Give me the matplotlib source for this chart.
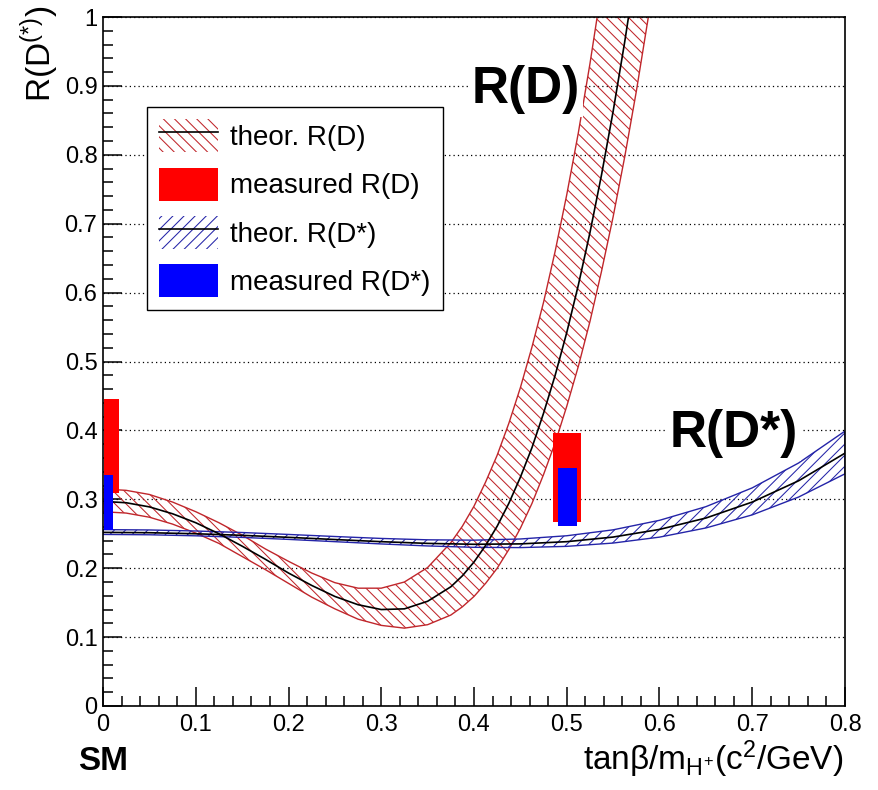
import matplotlib
matplotlib.use('Agg')
import matplotlib.pyplot as plt
from matplotlib.patches import Patch
from matplotlib.lines import Line2D
from matplotlib.legend_handler import HandlerTuple
from matplotlib.ticker import MultipleLocator

# theory band for R(D) vs tanb/mH
x_rd = [0.0, 0.025, 0.05, 0.075, 0.1, 0.125, 0.15, 0.175, 0.2, 0.225, 0.25, 0.275,
        0.3, 0.325, 0.35, 0.375, 0.3875, 0.4, 0.4125, 0.425, 0.4375, 0.45, 0.4625,
        0.475, 0.4875, 0.5, 0.5125, 0.525, 0.5375, 0.55, 0.5625, 0.575, 0.5875, 0.6]
rd_mid = [0.297, 0.295, 0.289, 0.279, 0.266, 0.250, 0.232, 0.213, 0.193, 0.175, 0.159, 0.147,
          0.140, 0.141, 0.152, 0.173, 0.189, 0.209, 0.233, 0.261, 0.294, 0.332, 0.375,
          0.425, 0.480, 0.542, 0.611, 0.687, 0.771, 0.863, 0.964, 1.074, 1.194, 1.323]
rd_hi = [0.315, 0.313, 0.307, 0.296, 0.282, 0.266, 0.248, 0.228, 0.210, 0.193, 0.179, 0.171,
         0.171, 0.180, 0.201, 0.237, 0.261, 0.290, 0.325, 0.364, 0.410, 0.462, 0.521,
         0.586, 0.660, 0.742, 0.832, 0.932, 1.041, 1.160, 1.290, 1.431, 1.583, 1.748]
rd_lo = [0.282, 0.280, 0.274, 0.264, 0.251, 0.236, 0.217, 0.198, 0.178, 0.158, 0.141, 0.126,
         0.117, 0.113, 0.118, 0.132, 0.144, 0.159, 0.178, 0.200, 0.227, 0.258, 0.294,
         0.336, 0.382, 0.435, 0.493, 0.558, 0.631, 0.710, 0.797, 0.892, 0.996, 1.108]

# theory band for R(D*)
x_rds = [0.0, 0.05, 0.1, 0.15, 0.2, 0.25, 0.3, 0.35, 0.4, 0.45, 0.5, 0.55, 0.6, 0.65, 0.7, 0.75, 0.8]
rds_mid = [0.252, 0.2515, 0.250, 0.2477, 0.2448, 0.2416, 0.2385, 0.2360, 0.2347, 0.2353,
           0.2385, 0.2452, 0.2563, 0.2728, 0.2960, 0.3269, 0.3670]
rds_hi = [0.256, 0.2555, 0.254, 0.2518, 0.249, 0.246, 0.2432, 0.2412, 0.2407, 0.2424,
          0.2471, 0.2557, 0.2695, 0.2893, 0.3166, 0.3527, 0.399]
rds_lo = [0.249, 0.2485, 0.247, 0.2447, 0.2418, 0.2385, 0.2352, 0.2323, 0.2303, 0.2299,
          0.2317, 0.2365, 0.2451, 0.2584, 0.2774, 0.3033, 0.337]

# measured values (SM point and at tanb/mH = 0.5)
meas_x = [0.0, 0.5]
rd_meas_lo = [0.309, 0.267]
rd_meas_hi = [0.446, 0.396]
rds_meas_lo = [0.255, 0.261]
rds_meas_hi = [0.335, 0.345]

x_ticks = [0, 0.1, 0.2, 0.3, 0.4, 0.5, 0.6, 0.7, 0.8]
x_ticklabels = ['0', '0.1', '0.2', '0.3', '0.4', '0.5', '0.6', '0.7', '0.8']
y_ticks = [0, 0.1, 0.2, 0.3, 0.4, 0.5, 0.6, 0.7, 0.8, 0.9, 1.0]
y_ticklabels = ['0', '0.1', '0.2', '0.3', '0.4', '0.5', '0.6', '0.7', '0.8', '0.9', '1']

RED_HATCH = '#c0262b'
BLUE_HATCH = '#2424a8'
RED_PAT = '\\\\\\'
BLUE_PAT = '///'

plt.rcParams['font.family'] = ['Liberation Sans', 'DejaVu Sans']
plt.rcParams['mathtext.fontset'] = 'custom'
plt.rcParams['mathtext.rm'] = 'Liberation Sans'
plt.rcParams['mathtext.it'] = 'Liberation Sans:italic'
plt.rcParams['mathtext.bf'] = 'Liberation Sans:bold'
plt.rcParams['hatch.linewidth'] = 0.75

fig = plt.figure(figsize=(8.79, 7.90), dpi=100)
ax = fig.add_axes([103 / 879, 84 / 790, 742 / 879, 689 / 790])

# bands
ax.fill_between(x_rd, rd_lo, rd_hi, facecolor='none', edgecolor=RED_HATCH,
                hatch=RED_PAT, lw=1.0, zorder=2)
ax.plot(x_rd, rd_mid, color='k', lw=1.2, zorder=3)
ax.fill_between(x_rds, rds_lo, rds_hi, facecolor='none', edgecolor=BLUE_HATCH,
                hatch=BLUE_PAT, lw=1.0, zorder=2)
ax.plot(x_rds, rds_mid, color='k', lw=1.2, zorder=3)

# measurement boxes
rd_left = [meas_x[0] + 0.001, meas_x[1] - 0.015]
rds_left = [meas_x[0] + 0.001, meas_x[1] - 0.009]
ax.bar(rd_left, [h - l for h, l in zip(rd_meas_hi, rd_meas_lo)], width=[0.016, 0.030],
       bottom=rd_meas_lo, align='edge', color='#ff0000', lw=0, zorder=4)
ax.bar(rds_left, [h - l for h, l in zip(rds_meas_hi, rds_meas_lo)], width=[0.010, 0.020],
       bottom=rds_meas_lo, align='edge', color='#0000ff', lw=0, zorder=5)

ax.set_xlim(0, 0.8)
ax.set_ylim(0, 1)
ax.set_xticks(x_ticks)
ax.set_xticklabels(x_ticklabels)
ax.set_yticks(y_ticks)
ax.set_yticklabels(y_ticklabels)
ax.xaxis.set_minor_locator(MultipleLocator(0.02))
ax.yaxis.set_minor_locator(MultipleLocator(0.02))
ax.tick_params(which='both', direction='in', top=False, right=False, width=1.1, labelsize=17)
ax.tick_params(which='major', length=14)
ax.tick_params(which='minor', length=7)
ax.tick_params(axis='x', pad=6)
ax.tick_params(axis='y', pad=4)
ax.yaxis.grid(True, which='major', color='k', ls=(0, (1, 2.5)), lw=0.9)
ax.set_axisbelow(True)
for s in ax.spines.values():
    s.set_linewidth(1.2)

# legend
h_rd = (Patch(facecolor='white', edgecolor=RED_HATCH, hatch=RED_PAT, lw=0),
        Line2D([], [], color='k', lw=1.2))
h_rdm = Patch(facecolor='#ff0000', lw=0)
h_rds = (Patch(facecolor='white', edgecolor=BLUE_HATCH, hatch=BLUE_PAT, lw=0),
         Line2D([], [], color='k', lw=1.2))
h_rdsm = Patch(facecolor='#0000ff', lw=0)
leg = ax.legend([h_rd, h_rdm, h_rds, h_rdsm],
                ['theor. R(D)', 'measured R(D)', 'theor. R(D*)', 'measured R(D*)'],
                handler_map={tuple: HandlerTuple(ndivide=1)},
                loc='upper left', bbox_to_anchor=(147 / 879, 1 - 107 / 790),
                bbox_transform=fig.transFigure, fontsize=20, frameon=True, fancybox=False,
                edgecolor='k', framealpha=1, borderpad=0.45, handlelength=2.1,
                handleheight=1.45, handletextpad=0.45, labelspacing=0.55, borderaxespad=0)
leg.get_frame().set_linewidth(1.0)
leg.set_zorder(6)

# labels
fig.text(40 / 879, 1 - 6 / 790, r'R(D$^{(*)}$)', rotation=90, ha='center', va='top', fontsize=24)
fig.text(843 / 879, 1 - 770 / 790, r'tanβ/m$_{\mathrm{H^{+}}}$(c$^{2}$/GeV)',
         ha='right', va='baseline', fontsize=24)
fig.text(78 / 879, 1 - 770 / 790, 'SM', ha='left', va='baseline', fontsize=24, fontweight='bold')
fig.text(472 / 879, 1 - 103 / 790, 'R(D)', ha='left', va='baseline', fontsize=37,
         fontweight='bold', zorder=7, bbox=dict(fc='white', ec='none', pad=2))
fig.text(670 / 879, 1 - 447 / 790, 'R(D*)', ha='left', va='baseline', fontsize=37,
         fontweight='bold', zorder=7, bbox=dict(fc='white', ec='none', pad=2))

fig.savefig('out.png', dpi=100)
